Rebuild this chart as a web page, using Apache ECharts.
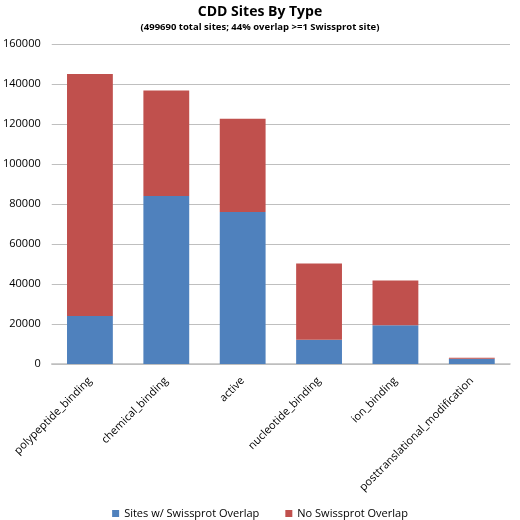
<!DOCTYPE html>
<html>
<head>
<meta charset="utf-8">
<script src="https://cdn.jsdelivr.net/npm/echarts@6/dist/echarts.min.js"></script>
<style>
  html, body { margin: 0; padding: 0; background: #fff; }
  #main { width: 520px; height: 520px; }
</style>
</head>
<body>
<div id="main"></div>
<script>
var categories = ['polypeptide_binding', 'chemical_binding', 'active', 'nucleotide_binding', 'ion_binding', 'posttranslational_modification'];
var withOverlap = [24000, 84000, 76000, 12100, 19400, 2600];
var noOverlap = [121000, 52800, 46600, 38100, 22400, 500];
var yTicks = [0, 20000, 40000, 60000, 80000, 100000, 120000, 140000, 160000];

var chart = echarts.init(document.getElementById('main'));
var font = 'Open Sans';

var option = {
  animation: false,
  color: ['#4F81BD', '#C0504D'],
  title: {
    text: 'CDD Sites By Type',
    subtext: '(499690 total sites; 44% overlap >=1 Swissprot site)',
    left: 'center',
    top: 0,
    itemGap: 3,
    textStyle: { fontFamily: font, fontSize: 14, fontWeight: 'bold', color: '#000' },
    subtextStyle: { fontFamily: font, fontSize: 9.5, fontWeight: 'bold', color: '#000' }
  },
  legend: {
    top: 503,
    left: 'center',
    itemWidth: 7,
    itemHeight: 7,
    itemGap: 26,
    icon: 'rect',
    textStyle: { fontFamily: font, fontSize: 11, color: '#000' },
    data: ['Sites w/ Swissprot Overlap', 'No Swissprot Overlap']
  },
  grid: {
    left: 51,
    right: 10,
    top: 44,
    bottom: 156
  },
  xAxis: {
    type: 'category',
    data: categories,
    axisTick: { show: false },
    axisLine: { lineStyle: { color: '#BFBFBF', width: 1.5 } },
    axisLabel: {
      rotate: 45,
      interval: 0,
      margin: 15,
      fontFamily: font,
      fontSize: 11,
      color: '#000'
    }
  },
  yAxis: {
    type: 'value',
    min: yTicks[0],
    max: yTicks[yTicks.length - 1],
    interval: 20000,
    axisLine: { show: false },
    axisTick: { show: false },
    splitLine: { lineStyle: { color: '#BFBFBF', width: 1 } },
    axisLabel: {
      fontFamily: font,
      fontSize: 11,
      color: '#000',
      margin: 11,
      formatter: function (v) { return String(v); }
    }
  },
  series: [
    {
      name: 'Sites w/ Swissprot Overlap',
      type: 'bar',
      stack: 'total',
      barWidth: '60%',
      data: withOverlap
    },
    {
      name: 'No Swissprot Overlap',
      type: 'bar',
      stack: 'total',
      barWidth: '60%',
      data: noOverlap
    }
  ]
};

chart.setOption(option);
</script>
</body>
</html>
